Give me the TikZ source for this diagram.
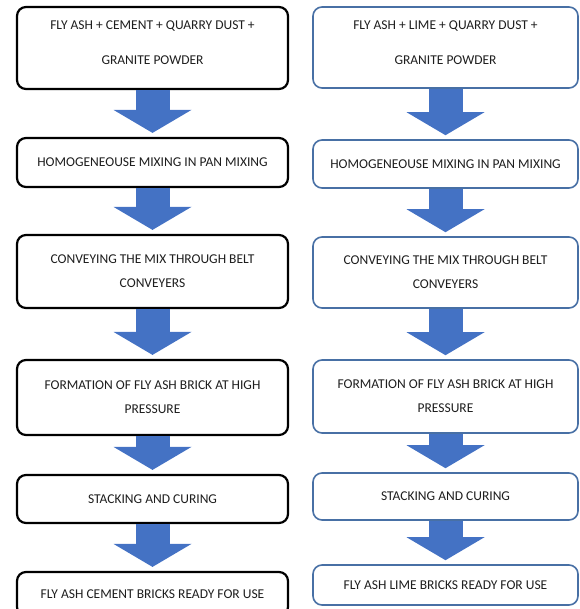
\documentclass[tikz,border=0pt]{standalone}
\usepackage{fontspec}
\setmainfont{Carlito}
\usetikzlibrary{arrows.meta}
\usepackage{xcolor}
\definecolor{ablue}{RGB}{68,114,196}
\definecolor{bblue}{RGB}{72,112,165}
\definecolor{tgray}{RGB}{30,30,30}

\begin{document}
\begin{tikzpicture}[x=1pt, y=-1pt,
  lbox/.style={rectangle, rounded corners=9pt, draw=black, line width=2.2pt, fill=white,
               minimum width=271pt, align=center, text=tgray,
               font=\fontsize{13.5}{24}\selectfont, inner sep=2pt},
  rbox/.style={lbox, draw=bblue, line width=1.6pt, minimum width=265pt},
  arr/.style={-{Triangle[width=78pt, length=23pt, line width=0pt]}, line width=34pt,
              draw=ablue, shorten >=4pt}
]
\useasboundingbox (0,0) rectangle (579,609);

% cement line
\node[lbox, minimum height=82pt] (lmat)   at (152.5,48)  {FLY ASH + CEMENT + QUARRY DUST +\\[11pt]GRANITE POWDER\rule[-10pt]{0pt}{10pt}};
\node[lbox, minimum height=49pt] (lpan)   at (152.5,162.5) {HOMOGENEOUSE MIXING IN PAN MIXING};
\node[lbox, minimum height=73pt] (lbelt)  at (152.5,271.5) {CONVEYING THE MIX THROUGH BELT\\CONVEYERS};
\node[lbox, minimum height=75pt] (lform)  at (152.5,397.5) {FORMATION OF FLY ASH BRICK AT HIGH\\PRESSURE};
\node[lbox, minimum height=48pt] (lcure)  at (152.5,499)   {STACKING AND CURING};
\node[lbox, minimum height=44pt] (lready) at (152.5,594)   {FLY ASH CEMENT BRICKS READY FOR USE};

% lime line
\node[rbox, minimum height=81pt] (rmat)   at (445.5,47.5)  {FLY ASH + LIME + QUARRY DUST +\\[11pt]GRANITE POWDER\rule[-10pt]{0pt}{10pt}};
\node[rbox, minimum height=48pt] (rpan)   at (445.5,164)   {HOMOGENEOUSE MIXING IN PAN MIXING};
\node[rbox, minimum height=71pt] (rbelt)  at (445.5,272.5) {CONVEYING THE MIX THROUGH BELT\\CONVEYERS};
\node[rbox, minimum height=73pt] (rform)  at (445.5,396.5) {FORMATION OF FLY ASH BRICK AT HIGH\\PRESSURE};
\node[rbox, minimum height=47pt] (rcure)  at (445.5,496.5) {STACKING AND CURING};
\node[rbox, minimum height=40pt] (rready) at (445.5,585)   {FLY ASH LIME BRICKS READY FOR USE};

\foreach \a/\b in {lmat/lpan, lpan/lbelt, lbelt/lform, lform/lcure, lcure/lready,
                   rmat/rpan, rpan/rbelt, rbelt/rform, rform/rcure, rcure/rready}
  \draw[arr] (\a.south) -- (\b.north);
\end{tikzpicture}
\end{document}
